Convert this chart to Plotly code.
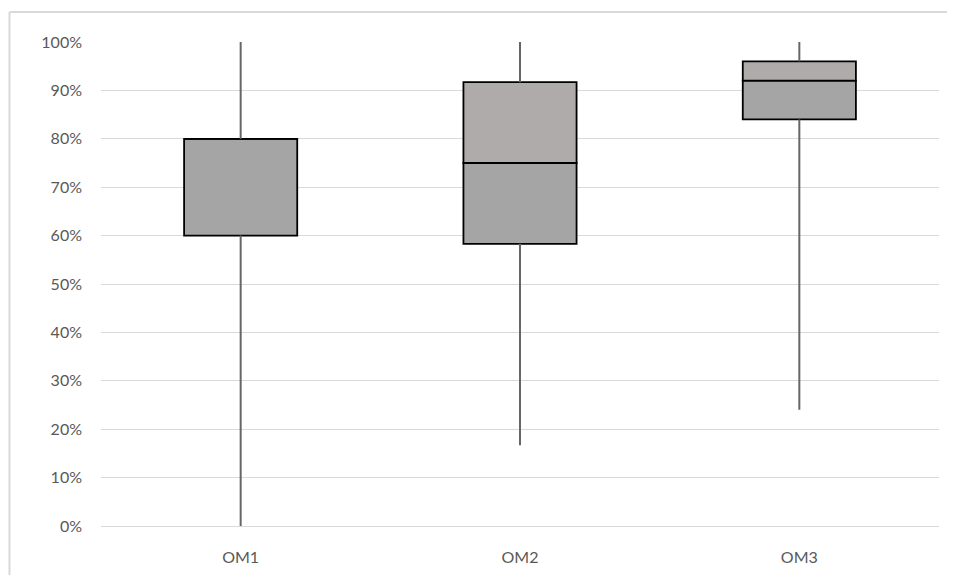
import plotly.graph_objects as go

categories = ["OM1", "OM2", "OM3"]
min_vals = [0.0, 0.167, 0.24]
q1_vals = [0.60, 0.583, 0.84]
median_vals = [0.80, 0.75, 0.92]
q3_vals = [0.80, 0.917, 0.96]
max_vals = [1.0, 1.0, 1.0]
y_ticks = [i / 10 for i in range(11)]
y_tick_labels = [f"{i * 10}%" for i in range(11)]

fig = go.Figure()

# whiskers
wx, wy = [], []
for c, mn, q1, q3, mx in zip(categories, min_vals, q1_vals, q3_vals, max_vals):
    wx += [c, c, None, c, c, None]
    wy += [mn, q1, None, q3, mx, None]
fig.add_trace(go.Scatter(x=wx, y=wy, mode="lines",
                         line=dict(color="#666666", width=2),
                         hoverinfo="skip", showlegend=False))

fig.add_trace(go.Bar(x=categories,
                     y=[m - q for m, q in zip(median_vals, q1_vals)],
                     base=q1_vals, width=0.405,
                     marker=dict(color="#A5A5A5", line=dict(color="#000000", width=1.8)),
                     showlegend=False))
fig.add_trace(go.Bar(x=categories,
                     y=[q - m for q, m in zip(q3_vals, median_vals)],
                     base=median_vals, width=0.405,
                     marker=dict(color="#AFABAB", line=dict(color="#000000", width=1.8)),
                     showlegend=False))

W, H = 939, 567
L, R, T, B = 93, 8, 34, 49
plot_w = W - L - R
plot_h = H - T - B
top_border = 1 + 30 / plot_h
left_border = -91.5 / plot_w

fig.update_layout(
    width=W, height=H,
    margin=dict(l=L, r=R, t=T, b=B),
    plot_bgcolor="white", paper_bgcolor="white",
    barmode="overlay",
    font=dict(family="Lato, Calibri, sans-serif", size=16, color="#595959"),
    xaxis=dict(type="category", range=[-0.5, 2.5], showgrid=False,
               showline=False, ticks="", ticklabelstandoff=20,
               zeroline=False, fixedrange=True),
    yaxis=dict(range=[0, 1], tickvals=y_ticks, ticktext=y_tick_labels,
               showgrid=True, gridcolor="#D9D9D9", gridwidth=1,
               zeroline=True, zerolinecolor="#D9D9D9", zerolinewidth=1,
               showline=False, ticks="", ticklabelstandoff=18),
    shapes=[
        dict(type="line", xref="paper", yref="paper", layer="above",
             x0=left_border, x1=left_border, y0=-0.2, y1=top_border,
             line=dict(color="#D9D9D9", width=2)),
        dict(type="line", xref="paper", yref="paper", layer="above",
             x0=left_border, x1=1.05, y0=top_border, y1=top_border,
             line=dict(color="#D9D9D9", width=2)),
    ],
)

fig.write_html("out.html")
